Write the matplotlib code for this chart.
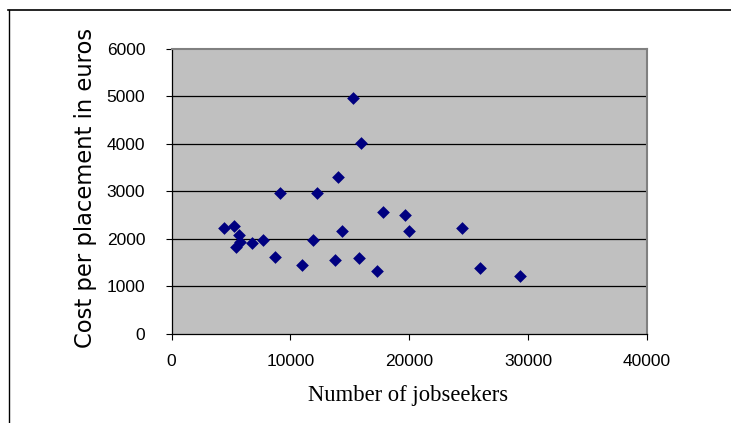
import matplotlib
matplotlib.use('Agg')
import matplotlib.pyplot as plt
from matplotlib.lines import Line2D
from matplotlib import font_manager

# Number of jobseekers per office and cost per placement (euros)
jobseekers = [4430, 5250, 5690, 5760, 5400, 6740, 7720, 8670, 9100, 10980,
              11920, 12200, 13730, 14040, 14350, 15300, 15770, 15920, 17300,
              17770, 19610, 19960, 24430, 25960, 29340]
cost = [2235, 2270, 2075, 1925, 1825, 1900, 1970, 1625, 2970, 1450,
        1965, 2970, 1555, 3305, 2170, 4960, 1590, 4010, 1315,
        2560, 2495, 2170, 2235, 1390, 1220]

x_ticks = [0, 10000, 20000, 30000, 40000]
y_ticks = [0, 1000, 2000, 3000, 4000, 5000, 6000]

names = {f.name for f in font_manager.fontManager.ttflist}
tick_font = 'Liberation Sans Narrow' if 'Liberation Sans Narrow' in names else 'Liberation Sans'

W, H = 731, 423
fig = plt.figure(figsize=(W / 100, H / 100), dpi=100)

# chart frame (only top and left edges fall inside the image)
fig.add_artist(Line2D([8.5 / W, 8.5 / W], [0, 1 - 10 / H], color='black', lw=1.0))
fig.add_artist(Line2D([8 / W, 1], [1 - 10 / H, 1 - 10 / H], color='black', lw=1.2))

left, right, top, bottom = 171.6, 647, 49, 333.6
ax = fig.add_axes([left / W, 1 - bottom / H, (right - left) / W, (bottom - top) / H])
ax.set_facecolor('#C0C0C0')

for v in y_ticks[1:-1]:
    ax.axhline(v, color='black', lw=0.9, zorder=1)

ax.scatter(jobseekers, cost, marker='D', s=42, color='#000080', linewidths=0, zorder=3)

ax.set_xlim(0, 40000)
ax.set_ylim(0, 6000)
ax.set_xticks(x_ticks)
ax.set_yticks(y_ticks)
ax.set_xticklabels([str(t) for t in x_ticks], fontfamily=tick_font, fontsize=12.5)
ax.set_yticklabels([str(t) for t in y_ticks], fontfamily=tick_font, fontsize=12.5)
ax.tick_params(axis='x', direction='out', length=4, width=0.8, pad=11)
ax.tick_params(axis='y', direction='out', length=4, width=0.8, pad=15)

for side in ('top', 'right'):
    ax.spines[side].set_color('#808080')
    ax.spines[side].set_linewidth(1.5)
for side in ('left', 'bottom'):
    ax.spines[side].set_color('black')
    ax.spines[side].set_linewidth(0.9)

fig.text(408 / W, 1 - 395 / H, 'Number of jobseekers', fontfamily='Liberation Serif',
         fontsize=16.3, ha='center', va='center')
fig.text(86 / W, 1 - 188 / H, 'Cost per placement in euros', fontfamily='DejaVu Sans',
         fontsize=16.3, rotation=90, ha='center', va='center')

fig.savefig('out.png', dpi=100)
